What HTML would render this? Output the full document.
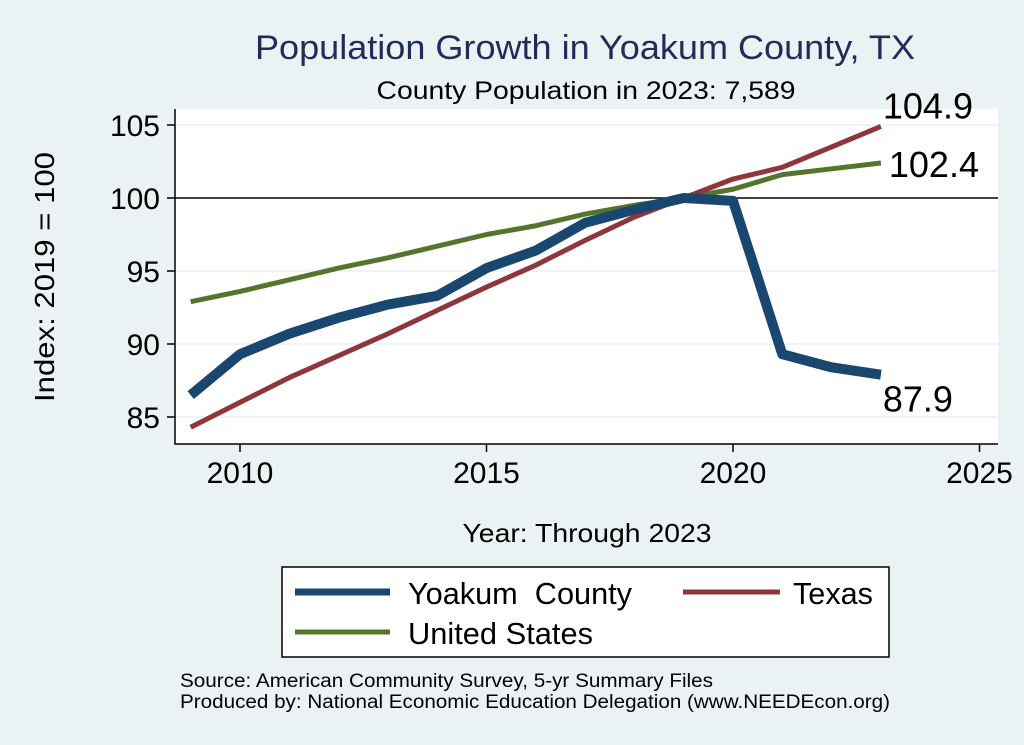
<!DOCTYPE html>
<html><head><meta charset="utf-8"><style>
body{margin:0;background:#eaf2f3;}
svg{display:block;font-family:"Liberation Sans",sans-serif;}
</style></head><body>
<svg width="1024" height="745" viewBox="0 0 1024 745">
<rect width="1024" height="745" fill="#eaf2f3"/>
<text x="585" y="59" font-size="34" fill="#1f2d5a" text-anchor="middle" textLength="660" lengthAdjust="spacingAndGlyphs">Population Growth in Yoakum County, TX</text>
<text x="586" y="99" font-size="25" fill="#000" text-anchor="middle" textLength="419" lengthAdjust="spacingAndGlyphs">County Population in 2023: 7,589</text>
<rect x="175" y="109" width="823" height="335" fill="#fff"/>
<g id="grid"></g>
<g id="axes"></g>
<g id="series"></g>
<text x="54" y="277" font-size="28" text-anchor="middle" textLength="250" lengthAdjust="spacingAndGlyphs" transform="rotate(-90 54 277)">Index: 2019 = 100</text>
<text x="587" y="542" font-size="26" text-anchor="middle" textLength="249" lengthAdjust="spacingAndGlyphs">Year: Through 2023</text>
<g>
<rect x="282" y="567" width="607" height="90" fill="#fff" stroke="#000" stroke-width="1.5"/>
<line x1="295" y1="592" x2="390" y2="592" stroke="#1a476f" stroke-width="7"/>
<text x="408" y="604" font-size="31" xml:space="preserve" textLength="224" lengthAdjust="spacingAndGlyphs">Yoakum  County</text>
<line x1="683" y1="592" x2="780" y2="592" stroke="#90353b" stroke-width="5"/>
<text x="793" y="604" font-size="31" textLength="80" lengthAdjust="spacingAndGlyphs">Texas</text>
<line x1="295" y1="632" x2="390" y2="632" stroke="#55752f" stroke-width="5"/>
<text x="408" y="644" font-size="31" textLength="185" lengthAdjust="spacingAndGlyphs">United States</text>
</g>
<text x="180" y="687" font-size="19" textLength="533" lengthAdjust="spacingAndGlyphs">Source: American Community Survey, 5-yr Summary Files</text>
<text x="180" y="708" font-size="19" textLength="710" lengthAdjust="spacingAndGlyphs">Produced by: National Economic Education Delegation (www.NEEDEcon.org)</text>
</svg>
<script>
const years=[2009,2010,2011,2012,2013,2014,2015,2016,2017,2018,2019,2020,2021,2022,2023];
const yoakum=[86.5,89.3,90.7,91.8,92.7,93.3,95.2,96.4,98.3,99.2,100,99.8,89.3,88.4,87.9];
const texas=[84.3,86.0,87.7,89.2,90.7,92.3,93.9,95.4,97.1,98.7,100,101.3,102.1,103.5,104.9];
const us=[92.9,93.6,94.4,95.2,95.9,96.7,97.5,98.1,98.9,99.5,100,100.6,101.6,102.0,102.4];
const xTicks=[2010,2015,2020,2025];
const yTicks=[85,90,95,100,105];
const NS='http://www.w3.org/2000/svg';
const X=v=>240+(v-2010)*49.3;
const Y=v=>198-(v-100)*14.6;
function mk(tag,attrs,parent,txt){const e=document.createElementNS(NS,tag);for(const k in attrs)e.setAttribute(k,attrs[k]);if(txt!==undefined)e.textContent=txt;document.getElementById(parent).appendChild(e);return e;}
yTicks.forEach(t=>{
 if(t!==100){const g=mk('line',{x1:176,x2:998,y1:Y(t),y2:Y(t),stroke:'#eaf2f3','stroke-width':1.5},'grid');
 
 }
 const tk=mk('line',{x1:167,x2:175,y1:Y(t),y2:Y(t),stroke:'#000','stroke-width':1.5},'axes');
 
 
 const l=mk('text',{x:160,y:Y(t)+11,'font-size':30,'text-anchor':'end'},'axes',String(t));
 
 
});
const ref=mk('line',{x1:175,x2:998,y1:Y(100),y2:Y(100),stroke:'#000','stroke-width':1.5},'grid');


const ax=mk('path',{d:'M175,109V444H998',fill:'none',stroke:'#000','stroke-width':1.5},'axes');


xTicks.forEach(t=>{
 const tk=mk('line',{x1:X(t),x2:X(t),y1:444,y2:452,stroke:'#000','stroke-width':1.5},'axes');
 
 
 const l=mk('text',{x:X(t),y:483,'font-size':30,'text-anchor':'middle'},'axes',String(t));
 
 
});
function line(vals,color,w,name){
 const p=mk('polyline',{points:vals.map((v,i)=>X(years[i])+','+Y(v)).join(' '),fill:'none',stroke:color,'stroke-width':w,'stroke-linejoin':'round'},'series');
 
 
}
line(us,'#55752f',5,'line-united-states');
line(texas,'#90353b',5,'line-texas');
line(yoakum,'#1a476f',10,'line-yoakum-county');
const n=years.length-1;
const lbl=[[texas[n],Y(texas[n])-8,'label-texas-last'],[us[n],Y(us[n])+14,'label-us-last'],[yoakum[n],Y(yoakum[n])+37,'label-yoakum-last']];
lbl.forEach(([v,y,nm],i)=>{
 const t=mk('text',{x:i==1?X(2023)+8:X(2023)+2,y:y,'font-size':36},'series',v.toFixed(1));
 
 
});
</script>
</body></html>
